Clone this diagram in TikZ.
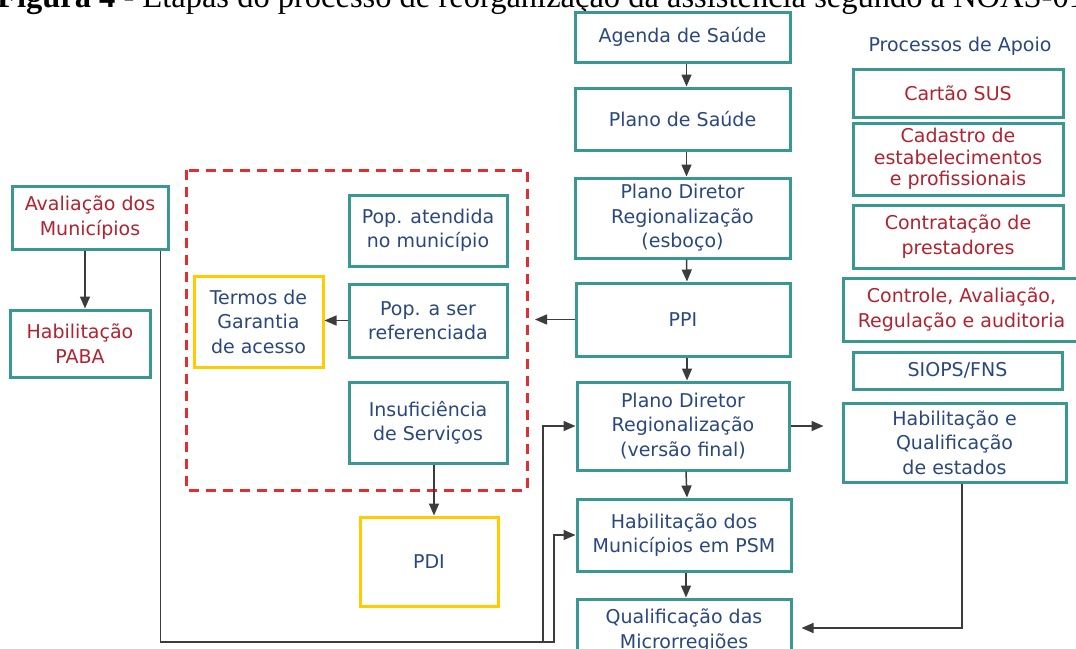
\documentclass[tikz,border=0pt]{standalone}
\usepackage{fontspec}
\setmainfont{DejaVu Sans}
\newfontfamily\titlefont{Liberation Serif}
\usetikzlibrary{arrows.meta,calc}
\definecolor{tealb}{RGB}{58,152,146}
\definecolor{ylw}{RGB}{255,204,0}
\definecolor{redd}{RGB}{226,45,50}
\definecolor{bluet}{RGB}{42,72,125}
\definecolor{redt}{RGB}{178,34,48}
\definecolor{arrc}{RGB}{60,60,60}
\tikzset{
  box/.style={draw=tealb, line width=3pt, fill=white, align=center, inner sep=0pt,
    text=bluet, font=\fontsize{19}{24.5}\selectfont},
  rbox/.style={box, text=redt},
  ybox/.style={box, draw=ylw},
  arr/.style={draw=arrc, line width=1.5pt, -{Triangle[length=12pt,width=10pt]}},
  grpbox/.style={draw=redd, line width=3pt, dash pattern=on 10pt off 7pt},
}
\begin{document}
\begin{tikzpicture}[x=1pt,y=-1pt]
\useasboundingbox (0,0) rectangle (1076,648);
\clip (0,0) rectangle (1076,648);
\fill[white] (0,0) rectangle (1076,648);

% title (cut at the top edge)
\node[anchor=base west, inner sep=0pt, font=\titlefont\fontsize{32.5}{36}\selectfont] (title) at (-3,7)
  {\textbf{Figura 4} - Etapas do processo de reorganização da assistência segundo a NOAS-01};

% central column
\node[box, minimum width=215, minimum height=50] (agenda) at (682.5,37) {Agenda de Saúde};
\node[box, minimum width=215, minimum height=62] (plano) at (682.5,119) {Plano de Saúde};
\node[box, minimum width=215, minimum height=80] (pde) at (682.5,218) {Plano Diretor\\Regionalização\\(esboço)};
\node[box, minimum width=214, minimum height=73] (ppi) at (683,319.5) {PPI};
\node[box, minimum width=212, minimum height=88] (pdf) at (683,426) {Plano Diretor\\Regionalização\\(versão final)};
\node[box, minimum width=214, minimum height=72] (psm) at (684,535) {Habilitação dos\\Municípios em PSM};
\node[box, minimum width=214, minimum height=63] (qual) at (684,630.5) {Qualificação das\\Microrregiões};

% left
\node[rbox, minimum width=156, minimum height=63] (aval) at (90,217.5) {Avaliação dos\\Municípios};
\node[rbox, minimum width=140, minimum height=67] (paba) at (80,343.5) {Habilitação\\PABA};

% dashed group
\draw[grpbox] (186,170) rectangle (527,490);
\coordinate (grp) at (527,322);
\node[box, minimum width=158, minimum height=71] (popat) at (428,230.5) {Pop. atendida\\no município};
\node[box, minimum width=158, minimum height=73] (popref) at (428,320.5) {Pop. a ser\\referenciada};
\node[box, minimum width=158, minimum height=81] (insuf) at (428,422.5) {Insuficiência\\de Serviços};
\node[ybox, minimum width=129, minimum height=91] (termos) at (258.5,321.5) {Termos de\\Garantia\\de acesso};
\node[ybox, minimum width=138, minimum height=89] (pdi) at (429,561.5) {PDI};

% right column
\node[text=bluet, font=\fontsize{19}{24.5}\selectfont, inner sep=0pt] (apoio) at (960,46) {Processos de Apoio};
\node[rbox, minimum width=210, minimum height=48] (cartao) at (958,93) {Cartão SUS};
\node[rbox, minimum width=210, minimum height=72, font=\fontsize{19}{21.5}\selectfont] (cadastro) at (958,159) {Cadastro de\\estabelecimentos\\e profissionais};
\node[rbox, minimum width=210, minimum height=63] (contrat) at (958,236.5) {Contratação de\\prestadores};
\node[rbox, minimum width=237, minimum height=63] (controle) at (961.5,309.5) {Controle, Avaliação,\\Regulação e auditoria};
\node[box, minimum width=209, minimum height=37] (siops) at (957.5,370.5) {SIOPS/FNS};
\node[box, minimum width=223, minimum height=79] (hq) at (954.5,442.5) {Habilitação e\\Qualificação\\de estados};

% connectors: central chain
\draw[arr] ([xshift=4]agenda.south) -- ([xshift=4]plano.north);
\draw[arr] ([xshift=4]plano.south) -- ([xshift=4]pde.north);
\draw[arr] ([xshift=4]pde.south) -- ([xshift=4]ppi.north);
\draw[arr] ([xshift=4]ppi.south) -- ([xshift=4]pdf.north);
\draw[arr] ([xshift=3]pdf.south) -- ([xshift=3]psm.north);
\draw[arr] ([xshift=2]psm.south) -- ([xshift=2]qual.north);

\draw[arr, shorten >=8pt] (ppi.west) -- (ppi.west -| grp);
\draw[arr] (popref.west) -- (popref.west -| termos.east);
\draw[arr] ([xshift=6]insuf.south) -- ([xshift=5]pdi.north);
\draw[arr] ([xshift=-5]aval.south) -- ([xshift=5]paba.north);

\coordinate (c1) at (543,642);
\coordinate (c2) at (554,642);
\draw[arr] ([xshift=-9]aval.south east) |- (c1) |- (pdf.west);
\draw[arr] ([xshift=-9]aval.south east) |- (c2) |- (psm.west);

\draw[arr, shorten >=18pt] (pdf.east) -- (pdf.east -| hq.west);
\coordinate (c3) at (962,628);
\draw[arr, shorten >=9pt] ([xshift=7.5]hq.south) -- (c3) -- (c3 -| qual.east);
\end{tikzpicture}
\end{document}
